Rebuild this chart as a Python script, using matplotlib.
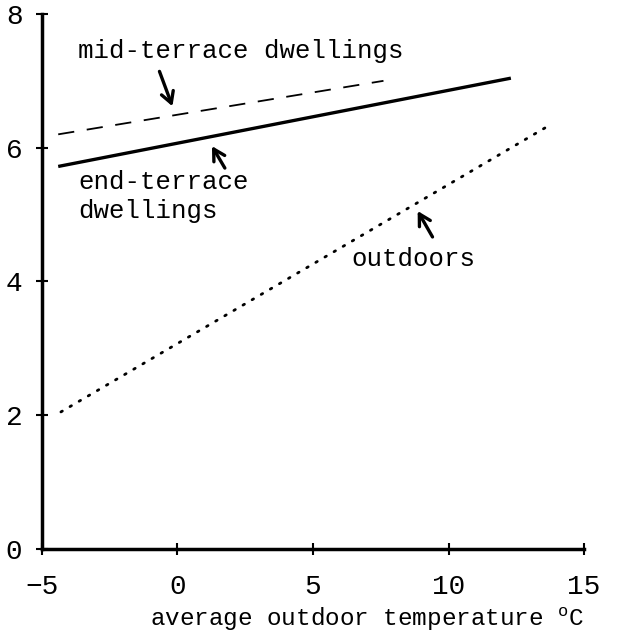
import numpy as np
import matplotlib.pyplot as plt

plt.rcParams['font.family'] = ['Liberation Mono', 'DejaVu Sans Mono']
plt.rcParams['mathtext.fontset'] = 'custom'
plt.rcParams['mathtext.rm'] = 'Liberation Mono'

# line end points
mid_x = [-4.4, 7.6]
mid_y = [6.2, 7.0]
end_x = [-4.4, 12.3]
end_y = [5.72, 7.04]
out_x = [-4.3, 13.7]
out_y = [2.05, 6.33]

xticks = [-5, 0, 5, 10, 15]
yticks = [0, 2, 4, 6, 8]

fig = plt.figure(figsize=(6.26, 6.34), dpi=100)
ax = fig.add_axes([0.067, 0.134, 0.866, 0.844])

ax.plot(mid_x, mid_y, color='black', lw=1.3, ls=(0, (9, 7)))
ax.plot(end_x, end_y, color='black', lw=2.4, solid_capstyle='butt')
ax.plot(out_x, out_y, color='black', lw=2.0, ls=(0, (0.6, 3.2)), dash_capstyle='round')

arrow = dict(arrowstyle='->,head_length=0.8,head_width=0.45', lw=2.4, color='black')

# labels + arrows
ax.text(-3.67, 7.45, 'mid-terrace dwellings', fontsize=18.5, va='center', ha='left')
ax.annotate('', xy=(-0.15, 6.58), xytext=(-0.7, 7.18), arrowprops=arrow)
ax.text(-3.67, 5.27, 'end-terrace\ndwellings', fontsize=18.5, va='center', ha='left', linespacing=1.25)
ax.annotate('', xy=(1.22, 6.06), xytext=(1.8, 5.66), arrowprops=arrow)
ax.text(6.41, 4.34, 'outdoors', fontsize=18.5, va='center', ha='left')
ax.annotate('', xy=(8.81, 5.09), xytext=(9.46, 4.63), arrowprops=arrow)

ax.set_xlim(-5, 15)
ax.set_ylim(0, 8)
ax.set_xticks(xticks)
ax.set_yticks(yticks)
ax.set_xticklabels(['\u22125', '0', '5', '10', '15'])
for s in ['top', 'right']:
    ax.spines[s].set_visible(False)
for s in ['left', 'bottom']:
    ax.spines[s].set_linewidth(2.5)
ax.tick_params(direction='inout', length=8, width=1.5, labelsize=20)
ax.tick_params(axis='x', pad=14)
ax.tick_params(axis='y', pad=10)
ax.set_xlabel('average outdoor temperature $^{\\mathrm{o}}$C', fontsize=17.5)
ax.xaxis.set_label_coords(0.6, -0.104)

plt.savefig('out.png', dpi=100)
